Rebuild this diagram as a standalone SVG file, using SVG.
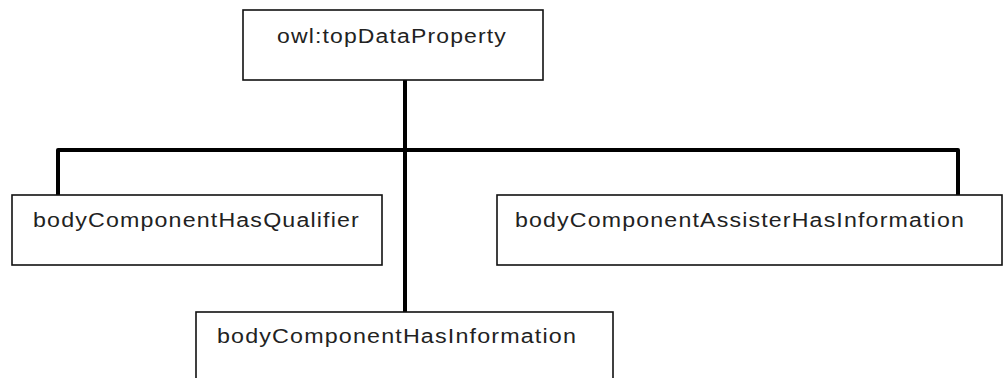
<svg xmlns="http://www.w3.org/2000/svg" width="1003" height="378" viewBox="0 0 1003 378">
<style>
.box{fill:#fff;stroke:#111;stroke-width:1.6}
.lbl{font-family:"Liberation Sans",Arial,sans-serif;font-size:20px;letter-spacing:1px;fill:#222}
.conn{fill:none;stroke:#000;stroke-width:4;stroke-linejoin:round}
</style>
<rect width="1003" height="378" fill="#fff"/>
<g id="connectors">
<path class="conn" d="M405,80 V312"/>
<path class="conn" d="M58,195 V150 H958 V195"/>
</g>
<g id="topDataProperty">
<rect class="box" x="243" y="10" width="300" height="70"/>
<text class="lbl" x="277" y="43" textLength="230" lengthAdjust="spacingAndGlyphs">owl:topDataProperty</text>
</g>
<g id="hasQualifier">
<rect class="box" x="12" y="195" width="370" height="70"/>
<text class="lbl" x="33" y="227" textLength="327" lengthAdjust="spacingAndGlyphs">bodyComponentHasQualifier</text>
</g>
<g id="assisterHasInformation">
<rect class="box" x="497" y="195" width="505" height="70"/>
<text class="lbl" x="515" y="227" textLength="450" lengthAdjust="spacingAndGlyphs">bodyComponentAssisterHasInformation</text>
</g>
<g id="hasInformation">
<rect class="box" x="196" y="312" width="417" height="80"/>
<text class="lbl" x="217" y="343" textLength="360" lengthAdjust="spacingAndGlyphs">bodyComponentHasInformation</text>
</g>
</svg>
